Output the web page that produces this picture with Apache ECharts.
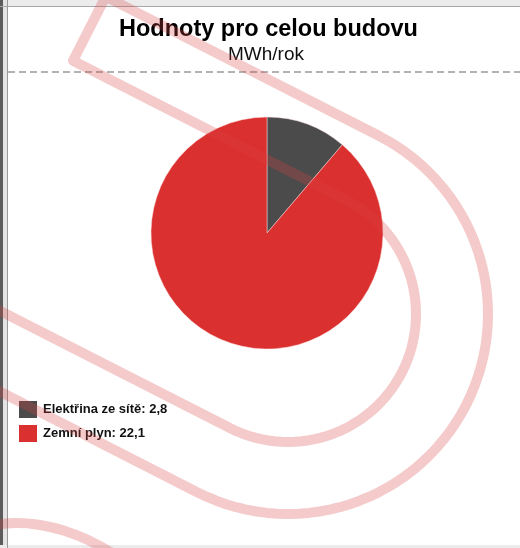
<!DOCTYPE html>
<html>
<head>
<meta charset="utf-8">
<script src="https://cdn.jsdelivr.net/npm/echarts@6/dist/echarts.min.js"></script>
<style>
html,body{margin:0;padding:0;background:#fff;}
#chart{width:520px;height:548px;}
</style>
</head>
<body>
<div id="chart"></div>
<script>
// ---- data ----
const titleText = 'Hodnoty pro celou budovu';
const unitText = 'MWh/rok';
const categories = ['Elektřina ze sítě', 'Zemní plyn'];
const values = [2.8, 22.1];
const sliceColors = ['#4b4b4b', '#db3030'];

// ---- decorative watermark geometry (background logo) ----
function watermarkBand() {
  const C = [288, 314], rIn = 128, rOut = 200;
  const a = 27 * Math.PI / 180;
  const d = [Math.cos(a), Math.sin(a)];
  const n = [-Math.sin(a), Math.cos(a)];
  const add = (p, v, k) => [p[0] + v[0] * k, p[1] + v[1] * k];
  const pts = [];
  const Bi = add(C, n, rIn), Ti = add(C, n, -rIn);
  const Bo = add(C, n, rOut);
  pts.push(add(Bi, d, -420));
  const tb = Math.atan2(n[1], n[0]);
  for (let t = 0; t <= 180; t += 3) {
    const ang = tb - t * Math.PI / 180;
    pts.push([C[0] + rIn * Math.cos(ang), C[1] + rIn * Math.sin(ang)]);
  }
  const L = (Ti[0] - 73) / d[0];
  const ci = add(Ti, d, -L);
  pts.push(ci);
  const co = add(ci, n, -(rOut - rIn));
  pts.push(co);
  const tt = tb - Math.PI;
  for (let t = 0; t <= 180; t += 3) {
    const ang = tt + t * Math.PI / 180;
    pts.push([C[0] + rOut * Math.cos(ang), C[1] + rOut * Math.sin(ang)]);
  }
  pts.push(add(Bo, d, -420));
  return pts;
}
const wmStyle = {stroke: 'rgba(214,64,64,0.28)', lineWidth: 10, fill: null, lineJoin: 'round'};

const chart = echarts.init(document.getElementById('chart'), null, {renderer: 'canvas'});
chart.setOption({
  backgroundColor: '#ffffff',
  animation: false,
  title: [{
    text: titleText,
    left: 119,
    top: 18,
    padding: 0,
    textStyle: {fontFamily: 'Liberation Sans, Arial, sans-serif', fontSize: 23.5, fontWeight: 'bold', color: '#000'}
  }, {
    text: unitText,
    left: 228,
    top: 45,
    padding: 0,
    textStyle: {fontFamily: 'Liberation Sans, Arial, sans-serif', fontSize: 19, fontWeight: 'normal', color: '#111'}
  }],
  legend: {
    orient: 'vertical',
    left: 19,
    top: 401,
    padding: 0,
    itemWidth: 18,
    itemHeight: 17,
    itemGap: 7,
    icon: 'rect',
    selectedMode: false,
    itemStyle: {borderWidth: 0},
    data: categories,
    formatter: function (name) {
      const i = categories.indexOf(name);
      return name + ': ' + String(values[i]).replace('.', ',');
    },
    textStyle: {fontFamily: 'Liberation Sans, Arial, sans-serif', fontSize: 13, fontWeight: 'bold', color: '#111', padding: [0, 0, 0, 1]}
  },
  series: [{
    type: 'pie',
    center: [267, 233],
    radius: 116,
    startAngle: 90,
    clockwise: true,
    silent: true,
    label: {show: false},
    labelLine: {show: false},
    itemStyle: {borderColor: 'rgba(255,220,220,0.6)', borderWidth: 0.8},
    data: categories.map((c, i) => ({name: c, value: values[i], itemStyle: {color: sliceColors[i]}}))
  }],
  graphic: [
    {type: 'rect', z: -10, shape: {x: 0, y: 0, width: 520, height: 6}, style: {fill: '#ececec'}},
    {type: 'line', z: -9, shape: {x1: 0, y1: 6.5, x2: 520, y2: 6.5}, style: {stroke: '#a8a8a8', lineWidth: 1}},
    {type: 'rect', z: -10, shape: {x: 0, y: 0, width: 3, height: 548}, style: {fill: '#5c5c5c'}},
    {type: 'rect', z: -10, shape: {x: 3, y: 0, width: 4, height: 548}, style: {fill: '#e4e4e4'}},
    {type: 'line', z: -9, shape: {x1: 7.5, y1: 0, x2: 7.5, y2: 548}, style: {stroke: '#9a9a9a', lineWidth: 1}},
    {type: 'rect', z: -10, shape: {x: 0, y: 545, width: 520, height: 3}, style: {fill: '#ececec'}},
    {type: 'line', z: -9, shape: {x1: 8, y1: 72, x2: 520, y2: 72}, style: {stroke: '#999999', lineWidth: 1.5, lineDash: [7, 4]}},
    {type: 'polyline', z: 100, silent: true, shape: {points: watermarkBand()}, style: wmStyle},
    {type: 'polyline', z: 100, silent: true, shape: {smooth: 0.5, points: [[-10, 526], [15, 523], [40, 525], [65, 531], [90, 541], [112, 553]]}, style: wmStyle}
  ]
});
</script>
</body>
</html>
